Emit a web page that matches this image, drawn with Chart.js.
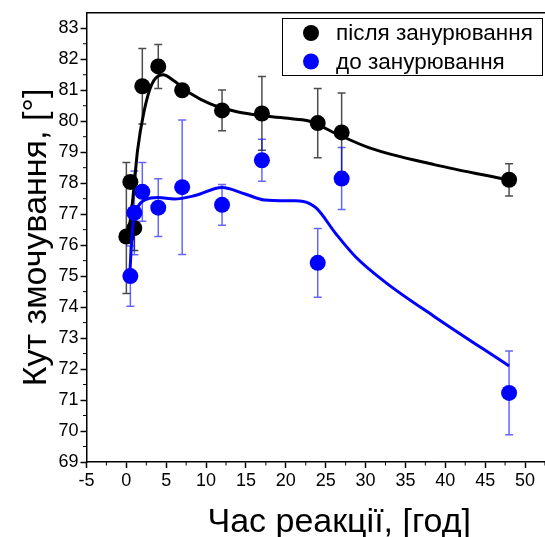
<!DOCTYPE html>
<html>
<head>
<meta charset="utf-8">
<script src="https://cdn.jsdelivr.net/npm/chart.js@4/dist/chart.umd.min.js"></script>
<style>
  html, body { margin: 0; padding: 0; background: #fff; overflow: hidden; }
  #wrap { width: 545px; height: 537px; overflow: hidden; }
  #box { width: 600px; height: 537px; }
</style>
</head>
<body>
<div id="wrap"><div id="box"><canvas id="myChart"></canvas></div></div>
<script>
// measured points (reaction time, h / contact angle, deg)
const blackX = [0, 0.5, 1, 2, 4, 7, 12, 17, 24, 27, 48];
const blackY = [76.28, 78.04, 76.55, 81.13, 81.77, 81.0, 80.35, 80.25, 79.94, 79.64, 78.11];
const blackErrUp = [2.39, 0, 0.72, 1.22, 0.71, 0, 0.66, 1.19, 1.12, 1.27, 0.52];
const blackErrDown = [1.84, 0, 0.72, 1.22, 0.71, 0, 0.66, 1.19, 1.12, 1.27, 0.52];

const blueX = [0.5, 1, 2, 4, 7, 12, 17, 24, 27, 48];
const blueY = [75.0, 77.04, 77.72, 77.21, 77.87, 77.3, 78.74, 75.43, 78.15, 71.23];
const blueErr = [0.97, 1.35, 0.95, 0.93, 2.17, 0.66, 0.68, 1.11, 1.0, 1.35];

// fitted curves
const fitBlackX = [0.1, 0.6, 1.0, 1.4, 2.2, 3.2, 4.6, 6, 8, 10.6, 14, 17.5, 21, 23, 26.3, 30.4, 38.6, 48];
const fitBlackY = [76.2, 77.0, 78.0, 79.05, 80.3, 81.2, 81.5, 81.3, 80.9, 80.55, 80.3, 80.17, 80.07, 80.0, 79.6, 79.15, 78.6, 78.1];
const fitBlueX = [0.4, 0.8, 1.4, 2.4, 4, 6, 8.6, 12, 14.8, 17.3, 21, 22.2, 23.8, 26.3, 28.8, 32.5, 38.6, 48];
const fitBlueY = [74.95, 76.6, 77.2, 77.47, 77.54, 77.49, 77.6, 77.86, 77.66, 77.46, 77.43, 77.41, 77.2, 76.36, 75.61, 74.8, 73.7, 72.1];

const seriesNames = ["після занурювання", "до занурювання"];
const seriesColors = ["#000000", "#0000ff"];

const FONT = "'Liberation Sans', Arial, sans-serif";

function toPts(xs, ys) {
    return xs.map((x, i) => ({ x: x, y: ys[i] }));
}

function drawErr(ctx, xs, ys, px, py, up, down, color) {
    ctx.save();
    ctx.strokeStyle = color;
    ctx.lineWidth = 1.5;
    px.forEach((x, i) => {
        if (!up[i] && !down[i]) return;
        const cx = xs.getPixelForValue(x);
        const t = ys.getPixelForValue(py[i] + up[i]);
        const b = ys.getPixelForValue(py[i] - down[i]);
        ctx.beginPath();
        ctx.moveTo(cx, t); ctx.lineTo(cx, b);
        ctx.moveTo(cx - 4, t); ctx.lineTo(cx + 4, t);
        ctx.moveTo(cx - 4, b); ctx.lineTo(cx + 4, b);
        ctx.stroke();
    });
    ctx.restore();
}

const extras = {
    id: "extras",
    beforeDatasetsDraw(chart) {
        const ctx = chart.ctx;
        const xs = chart.scales.x, ys = chart.scales.y;
        drawErr(ctx, xs, ys, blackX, blackY, blackErrUp, blackErrDown, "rgba(0,0,0,0.7)");
        drawErr(ctx, xs, ys, blueX, blueY, blueErr, blueErr, "rgba(0,0,255,0.6)");
    },
    afterDraw(chart) {
        const ctx = chart.ctx;
        const xs = chart.scales.x, ys = chart.scales.y;
        const a = chart.chartArea;
        ctx.save();
        ctx.strokeStyle = "#000";
        ctx.lineWidth = 1.5;
        // top frame line
        ctx.beginPath();
        ctx.moveTo(a.left, a.top); ctx.lineTo(a.right, a.top);
        ctx.stroke();
        // minor ticks
        ctx.lineWidth = 1;
        ctx.beginPath();
        for (let v = 69.5; v < 83.5; v += 1) {
            const y = ys.getPixelForValue(v);
            ctx.moveTo(a.left, y); ctx.lineTo(a.left - 3.5, y);
        }
        for (let v = -2.5; v < xs.max; v += 5) {
            const x = xs.getPixelForValue(v);
            ctx.moveTo(x, a.bottom); ctx.lineTo(x, a.bottom + 3.5);
        }
        ctx.stroke();
        // legend
        ctx.lineWidth = 1;
        ctx.strokeRect(282.5, 18.5, 260, 57);
        ctx.font = "22.5px " + FONT;
        ctx.textBaseline = "middle";
        seriesNames.forEach((name, i) => {
            const y = 33 + i * 28.5;
            ctx.fillStyle = seriesColors[i];
            ctx.beginPath();
            ctx.arc(311, y, 8, 0, Math.PI * 2);
            ctx.fill();
            ctx.fillStyle = "#000";
            ctx.fillText(name, 336, y + 1);
        });
        ctx.restore();
    }
};

new Chart(document.getElementById("myChart"), {
    type: "scatter",
    data: {
        datasets: [
            {
                label: seriesNames[1],
                data: toPts(blueX, blueY),
                backgroundColor: "#0000ff",
                borderColor: "#0000ff",
                pointRadius: 8,
                borderWidth: 0,
                order: 0
            },
            {
                type: "line",
                data: toPts(fitBlueX, fitBlueY),
                borderColor: "#0000ff",
                borderWidth: 3,
                pointRadius: 0,
                fill: false,
                cubicInterpolationMode: "monotone",
                order: 1
            },
            {
                label: seriesNames[0],
                data: toPts(blackX, blackY),
                backgroundColor: "#000000",
                borderColor: "#000000",
                pointRadius: 8,
                borderWidth: 0,
                order: 2
            },
            {
                type: "line",
                data: toPts(fitBlackX, fitBlackY),
                borderColor: "#000000",
                borderWidth: 3,
                pointRadius: 0,
                fill: false,
                cubicInterpolationMode: "monotone",
                order: 3
            }
        ]
    },
    options: {
        responsive: true,
        maintainAspectRatio: false,
        animation: false,
        layout: { padding: { top: 11, left: 0, right: 0, bottom: 0 } },
        plugins: {
            legend: { display: false },
            tooltip: { enabled: false }
        },
        scales: {
            x: {
                type: "linear",
                min: -5,
                max: 58.4,
                ticks: {
                    stepSize: 5,
                    includeBounds: false,
                    autoSkip: false,
                    maxRotation: 0,
                    color: "#000",
                    padding: 2,
                    font: { size: 18, family: FONT }
                },
                grid: { drawOnChartArea: false, tickLength: 6, tickColor: "#000", tickWidth: 1.5 },
                border: { color: "#000", width: 1.5 },
                title: {
                    display: true,
                    text: "Час реакції, [год]",
                    color: "#000",
                    padding: { top: 0, bottom: -6 },
                    font: { size: 34, family: FONT, lineHeight: 1.2 }
                },
                afterFit(scale) { scale.height = 75; }
            },
            y: {
                type: "linear",
                min: 69,
                max: 83.5,
                ticks: {
                    stepSize: 1,
                    includeBounds: false,
                    autoSkip: false,
                    color: "#000",
                    padding: 2,
                    font: { size: 18, family: FONT }
                },
                grid: { drawOnChartArea: false, tickLength: 6, tickColor: "#000", tickWidth: 1.5 },
                border: { color: "#000", width: 1.5 },
                title: {
                    display: true,
                    text: "Кут змочування, [°]",
                    color: "#000",
                    padding: { top: 16, bottom: 0 },
                    font: { size: 34, family: FONT, lineHeight: 1.2 }
                },
                afterFit(scale) { scale.width = 86.5; }
            }
        }
    },
    plugins: [extras]
});
</script>
</body>
</html>
